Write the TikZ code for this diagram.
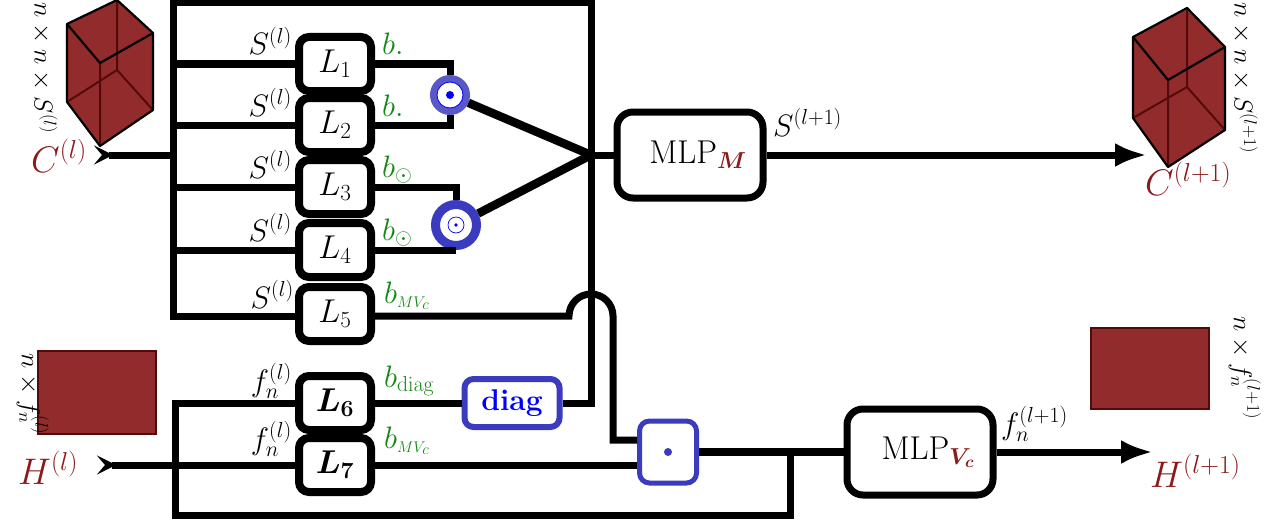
\RequirePackage{fix-cm}
\documentclass[tikz,border=0pt]{standalone}
\usepackage{amsmath,bm}
\usetikzlibrary{arrows.meta,calc}
\definecolor{dred}{RGB}{139,26,26}
\definecolor{cubefill}{RGB}{146,43,43}
\definecolor{cubeedge}{RGB}{85,10,10}
\definecolor{gr}{RGB}{20,135,20}
\definecolor{bl}{RGB}{59,59,191}
\tikzset{
  lbox/.style={draw, line width=8pt, rounded corners=10pt, minimum width=72pt, minimum height=54pt, inner sep=0pt, fill=white, font=\fontsize{33}{37}\selectfont},
  mlp/.style={draw, line width=7pt, rounded corners=16pt, minimum width=146pt, minimum height=86pt, inner sep=0pt, font=\fontsize{33}{37}\selectfont},
  wire/.style={line width=7pt},
  thickwire/.style={line width=8.5pt},
  lbl/.style={font=\fontsize{31}{35}\selectfont, inner sep=0pt},
  glbl/.style={lbl, text=gr},
  rlbl/.style={font=\fontsize{37}{41}\selectfont, text=dred, inner sep=0pt},
  dimlbl/.style={font=\fontsize{26}{30}\selectfont, rotate=-90, inner sep=0pt},
  outarrow/.style={line width=7pt, -{Latex[length=32pt,width=24pt]}},
  intail/.style={line width=7pt, {Stealth[length=19pt,width=19pt,inset=8pt,reversed]}-},
  cubeline/.style={draw=black, line width=2.2pt, line join=round},
  cubehidden/.style={draw=cubeedge, line width=2pt},
}
\begin{document}
\begin{tikzpicture}[x=1pt,y=-1pt]
\useasboundingbox (0,0) rectangle (1273,527);

% ---------- left cube ----------
\fill[cubefill] (67,24) -- (117,0) -- (153,33) -- (153,110) -- (100,146) -- (67,102) -- cycle;
\draw[cubehidden] (117,0) -- (117,70) -- (67,102) (117,70) -- (153,110) (100,63) -- (100,146);
\draw[cubeline] (67,24) -- (117,0) -- (153,33) -- (153,110) -- (100,146) -- (67,102) -- cycle;
\draw[cubeline] (67,24) -- (100,63) -- (153,33);
\node[dimlbl] (dimC) at (45,68) {$n\times n\times S^{(l)}$};

% ---------- right cube ----------
\fill[cubefill] (1133,37) -- (1187,8) -- (1225,47) -- (1225,130) -- (1168,167) -- (1133,118) -- cycle;
\draw[cubehidden] (1187,8) -- (1187,87) -- (1133,118) (1187,87) -- (1225,130) (1168,80) -- (1168,167);
\draw[cubeline] (1133,37) -- (1187,8) -- (1225,47) -- (1225,130) -- (1168,167) -- (1133,118) -- cycle;
\draw[cubeline] (1133,37) -- (1168,80) -- (1225,47);
\node[dimlbl] (dimC2) at (1245,78) {$n\times n\times S^{(l+1)}$};

% ---------- H rectangles ----------
\draw[fill=cubefill, draw=cubeedge, line width=2.2pt] (38,351) rectangle (156,434);
\node[dimlbl] (dimH) at (33,394) {$n\times f_n^{(l)}$};
\draw[fill=cubefill, draw=cubeedge, line width=2.2pt] (1091,328) rectangle (1209,409);
\node[dimlbl] (dimH2) at (1245,368) {$n\times f_n^{(l+1)}$};

% ---------- L boxes ----------
\node[lbox] (L1) at (335,64) {$L_1$};
\node[lbox] (L2) at (335,125) {$L_2$};
\node[lbox] (L3) at (335,187) {$L_3$};
\node[lbox] (L4) at (335,250) {$L_4$};
\node[lbox] (L5) at (335,314) {$L_5$};
\node[lbox] (L6) at (335,403) {$\bm{L_6}$};
\node[lbox] (L7) at (335,465) {$\bm{L_7}$};

% ---------- operators ----------
\node[circle, draw=bl!85!white, line width=7pt, minimum size=33pt, inner sep=0pt] (o1) at (450,95) {};
\draw[blue, line width=0.8pt] (o1) circle (13);
\fill[blue] (o1) circle (4);
\node[circle, draw=bl, line width=9pt, minimum size=41pt, inner sep=0pt] (o2) at (456,225) {};
\draw[blue, line width=0.7pt] (o2) circle (8);
\fill[blue] (o2) circle (1.8);

\node[mlp] (mlpM) at (690,155) {\hspace*{16pt}$\mathrm{MLP}_{\textcolor{dred}{\bm{M}}}$};
\node[mlp] (mlpV) at (920,452) {\hspace*{16pt}$\mathrm{MLP}_{\textcolor{dred}{\bm{V_c}}}$};

\node[draw=bl, line width=6pt, rounded corners=9pt, minimum width=95pt, minimum height=48pt, inner sep=0pt, text=blue, font=\bfseries\fontsize{30}{34}\selectfont] (diag) at (512,403) {diag};
\node[draw=bl, line width=5pt, rounded corners=10pt, minimum width=57pt, minimum height=62pt, inner sep=0pt] (dotbox) at (668,452) {};
\fill[bl] (dotbox) circle (4);

% ---------- coordinates ----------
\coordinate (tl) at (173,3);
\coordinate (tr) at (591,3);
\coordinate (cv) at (591,155);
\coordinate (cin) at (94,155);
\coordinate (cout) at (1147,155);
\coordinate (hin) at (97,465);
\coordinate (hout) at (1153,452);
\coordinate (hopL) at (569,316);
\coordinate (hopR) at (613,316);
\coordinate (j2) at (790,452);
\coordinate (lb) at (175,515);

% ---------- top wires ----------
\draw[wire] (diag.east) -| (tr) -- (tl) |- (hopL -| L5.west);
\draw[wire] (tl |- L1.west) -- (L1.west);
\draw[wire] (tl |- L2.west) -- (L2.west);
\draw[wire] (tl |- L3.west) -- (L3.west);
\draw[wire] (tl |- L4.west) -- (L4.west);
\draw[intail] (cin) -- (tl |- cin);
\draw[wire] (L1.east) -| (o1.north);
\draw[wire] (L2.east) -| (o1.south);
\draw[wire] (L3.east) -| (o2.north);
\draw[wire] (L4.east) -| (o2.south);
\draw[thickwire] (o1) -- (cv);
\draw[thickwire] (o2) -- (cv);
\draw[wire] (cv) -- (mlpM.west);
\draw[outarrow] (mlpM.east) -- (cout);

% ---------- bottom wires ----------
\draw[wire] (hopL -| L5.east) -- (hopL) arc[start angle=180, end angle=0, radius=22pt] -- (hopR |- 0,440) -- (dotbox.west |- 0,440);
\draw[wire] (L6.east) -- (diag.west);
\draw[wire] (L7.east) -- (L7.east -| dotbox.west);
\draw[intail] (hin) -- (L7.west);
\draw[thickwire] (dotbox.east) -- (mlpV.west);
\draw[wire] (j2) |- (lb) |- (L6.west);
\draw[outarrow] (mlpV.east) -- (hout);

% ---------- labels ----------
\node[lbl, anchor=base east] (s1) at (292,55) {$S^{(l)}$};
\node[lbl, anchor=base east] (s2) at (292,116) {$S^{(l)}$};
\node[lbl, anchor=base east] (s3) at (292,178) {$S^{(l)}$};
\node[lbl, anchor=base east] (s4) at (292,241) {$S^{(l)}$};
\node[lbl, anchor=base east] (s5) at (294,308) {$S^{(l)}$};
\node[lbl, anchor=base east] (f6) at (292,391) {$f_n^{(l)}$};
\node[lbl, anchor=base east] (f7) at (292,449) {$f_n^{(l)}$};

\node[glbl, anchor=base west] (b1) at (382,55) {$b.$};
\node[glbl, anchor=base west] (b2) at (382,116) {$b.$};
\node[glbl, anchor=base west] (b3) at (382,177) {$b_{\odot}$};
\node[glbl, anchor=base west] (b4) at (382,240) {$b_{\odot}$};
\node[glbl, anchor=base west] (b5) at (384,303) {$b_{\scriptscriptstyle MV_c}$};
\node[glbl, anchor=base west] (b6) at (384,387) {$b_{\mathrm{diag}}$};
\node[glbl, anchor=base west] (b7) at (384,448) {$b_{\scriptscriptstyle MV_c}$};

\node[lbl, anchor=base west] (sout) at (773,136) {$S^{(l+1)}$};
\node[lbl, anchor=base west] (fout) at (1001,434) {$f_n^{(l+1)}$};

\node[rlbl, anchor=base west] (Cl) at (31,172) {$C^{(l)}$};
\node[rlbl, anchor=base west] (Cl1) at (1145,195) {$C^{(l+1)}$};
\node[rlbl, anchor=base west] (Hl) at (18,484) {$H^{(l)}$};
\node[rlbl, anchor=base west] (Hl1) at (1150,487) {$H^{(l+1)}$};
\end{tikzpicture}
\end{document}
